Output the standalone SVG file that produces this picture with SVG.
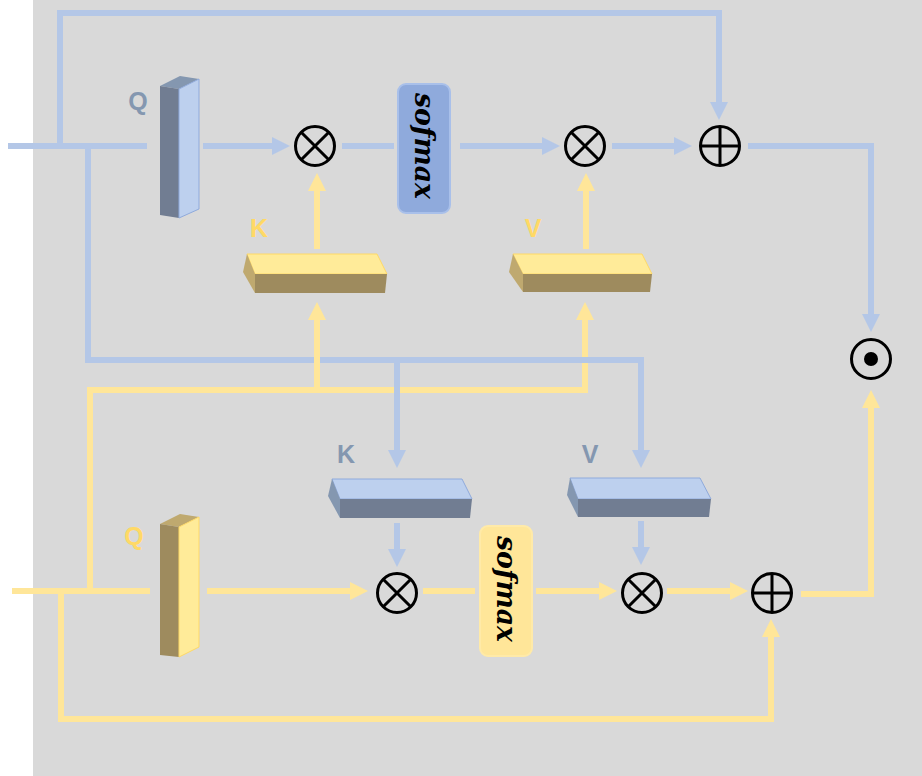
<svg xmlns="http://www.w3.org/2000/svg" width="922" height="776" viewBox="0 0 922 776">
  <defs>
    <marker id="ah-blue" markerUnits="userSpaceOnUse" markerWidth="18" markerHeight="18" refX="9" refY="9" orient="auto">
      <path d="M0,0 L18,9 L0,18 z" fill="#b4c7e7"/>
    </marker>
    <marker id="ah-yellow" markerUnits="userSpaceOnUse" markerWidth="18" markerHeight="18" refX="9" refY="9" orient="auto">
      <path d="M0,0 L18,9 L0,18 z" fill="#ffe699"/>
    </marker>
  </defs>
  <style>
    .wire { fill: none; stroke-width: 6; }
    .b { stroke: #b4c7e7; }
    .y { stroke: #ffe699; }
    .ab { marker-end: url(#ah-blue); }
    .ay { marker-end: url(#ah-yellow); }
    .op { fill: none; stroke: #000; stroke-width: 3; }
    .lbl { font-family: "Liberation Sans", Arial, sans-serif; font-weight: bold; font-size: 25px; }
    .lb { fill: #8497b0; }
    .ly { fill: #ffd966; }
    .sm { font-family: "DejaVu Serif", "Liberation Serif", serif; font-style: italic; font-weight: bold; font-size: 27px; fill: #000; }
    .bl-light { fill: #bdd0ee; stroke: #8faadc; stroke-width: 1; }
    .bl-dark { fill: #717d92; }
    .bl-mid { fill: #8497b0; }
    .yl-light { fill: #ffeb99; stroke: #ffd966; stroke-width: 1; }
    .yl-dark { fill: #9e8b5e; }
    .yl-mid { fill: #bfa96f; }
  </style>

  <!-- panel -->
  <rect x="33" y="0" width="889" height="776" fill="#d9d9d9"/>

  <!-- connectors -->
  <g id="connectors">
    <!-- yellow stream -->
    <path class="wire y" d="M12,591 H150"/>
    <path class="wire y ay" d="M61,591 V719 H771 V628"/>
    <path class="wire y ay" d="M90,591 V390 H585 V311"/>
    <path class="wire y ay" d="M317,249 V182"/>
    <path class="wire y ay" d="M586,249 V182"/>
    <path class="wire y ay" d="M207,591 H359"/>
    <path class="wire y" d="M423,591 H475"/>
    <path class="wire y ay" d="M536,591 H608"/>
    <path class="wire y ay" d="M667,591 H739"/>
    <path class="wire y ay" d="M801,594 H871 V399"/>
    <!-- blue stream -->
    <path class="wire b" d="M8,146 H147"/>
    <path class="wire b ab" d="M60,149 V13 H719 V111"/>
    <path class="wire b ab" d="M203,146 H281"/>
    <path class="wire b" d="M342,146 H394"/>
    <path class="wire b ab" d="M460,146 H551"/>
    <path class="wire b ab" d="M612,146 H683"/>
    <path class="wire b ab" d="M748,146 H871 V323"/>
    <path class="wire b ab" d="M88,149 V360 H641 V459"/>
    <path class="wire b ab" d="M397,360 V459"/>
    <path class="wire b ab" d="M397,523 V558"/>
    <path class="wire b ab" d="M641,521 V556"/>
    <!-- yellow branch crossing over -->
    <path class="wire y ay" d="M317,390 V311"/>
  </g>

  <!-- top stream nodes -->
  <g id="q-top">
    <polygon class="bl-mid" points="160,86 180,76 199,79 179,89"/>
    <polygon class="bl-dark" points="160,86 179,89 179,218 160,215"/>
    <polygon class="bl-light" points="179,89 199,79 199,209 179,218"/>
    <text class="lbl lb" x="138" y="110" text-anchor="middle">Q</text>
  </g>

  <g id="mul-top-1">
    <circle class="op" cx="315" cy="146" r="19.5"/>
    <path class="op" d="M301.2,132.2 L328.8,159.8 M328.8,132.2 L301.2,159.8"/>
  </g>

  <g id="softmax-top">
    <rect x="398" y="84" width="52" height="129" rx="8" fill="#8faadc" stroke="#a9c0ea" stroke-width="2"/>
    <text class="sm" transform="translate(424,146) rotate(90)" text-anchor="middle" dy="0.35em" textLength="106" lengthAdjust="spacingAndGlyphs">sofmax</text>
  </g>

  <g id="mul-top-2">
    <circle class="op" cx="585" cy="146" r="19.5"/>
    <path class="op" d="M571.2,132.2 L598.8,159.8 M598.8,132.2 L571.2,159.8"/>
  </g>

  <g id="add-top">
    <circle class="op" cx="720" cy="146" r="19.5"/>
    <path class="op" d="M700.5,146 H739.5 M720,126.5 V165.5"/>
  </g>

  <g id="k-top">
    <polygon class="yl-light" points="247,254 377,254 387,274 255,274"/>
    <polygon class="yl-mid" points="247,254 255,274 255,293 243,272"/>
    <polygon class="yl-dark" points="255,274 387,274 385,293 255,293"/>
    <text class="lbl ly" x="259" y="237" text-anchor="middle">K</text>
  </g>

  <g id="v-top">
    <polygon class="yl-light" points="513,254 642,254 652,274 523,274"/>
    <polygon class="yl-mid" points="513,254 523,274 523,292 509,272"/>
    <polygon class="yl-dark" points="523,274 652,274 650,292 523,292"/>
    <text class="lbl ly" x="533" y="237" text-anchor="middle">V</text>
  </g>

  <g id="dot-product">
    <circle class="op" cx="871" cy="359" r="19.5"/>
    <circle cx="871" cy="359" r="7" fill="#000"/>
  </g>

  <!-- bottom stream nodes -->
  <g id="k-bottom">
    <polygon class="bl-light" points="332,479 462,479 472,499 340,499"/>
    <polygon class="bl-mid" points="332,479 340,499 340,518 328,496"/>
    <polygon class="bl-dark" points="340,499 472,499 470,518 340,518"/>
    <text class="lbl lb" x="346" y="463" text-anchor="middle">K</text>
  </g>

  <g id="v-bottom">
    <polygon class="bl-light" points="570,478 700,478 711,499 578,499"/>
    <polygon class="bl-mid" points="570,478 578,499 578,517 567,495"/>
    <polygon class="bl-dark" points="578,499 711,499 709,517 578,517"/>
    <text class="lbl lb" x="590" y="463" text-anchor="middle">V</text>
  </g>

  <g id="q-bottom">
    <polygon class="yl-mid" points="160,524 180,514 199,517 179,527"/>
    <polygon class="yl-dark" points="160,524 179,527 179,657 160,655"/>
    <polygon class="yl-light" points="179,527 199,517 199,647 179,657"/>
    <text class="lbl ly" x="134" y="545" text-anchor="middle">Q</text>
  </g>

  <g id="mul-bottom-1">
    <circle class="op" cx="397" cy="593" r="19.5"/>
    <path class="op" d="M383.2,579.2 L410.8,606.8 M410.8,579.2 L383.2,606.8"/>
  </g>

  <g id="softmax-bottom">
    <rect x="480" y="526" width="52" height="130" rx="8" fill="#ffe699" stroke="#ffeaa8" stroke-width="2"/>
    <text class="sm" transform="translate(506,589) rotate(90)" text-anchor="middle" dy="0.35em" textLength="106" lengthAdjust="spacingAndGlyphs">sofmax</text>
  </g>

  <g id="mul-bottom-2">
    <circle class="op" cx="642" cy="593" r="19.5"/>
    <path class="op" d="M628.2,579.2 L655.8,606.8 M655.8,579.2 L628.2,606.8"/>
  </g>

  <g id="add-bottom">
    <circle class="op" cx="772" cy="593" r="19.5"/>
    <path class="op" d="M752.5,593 H791.5 M772,573.5 V612.5"/>
  </g>
</svg>
